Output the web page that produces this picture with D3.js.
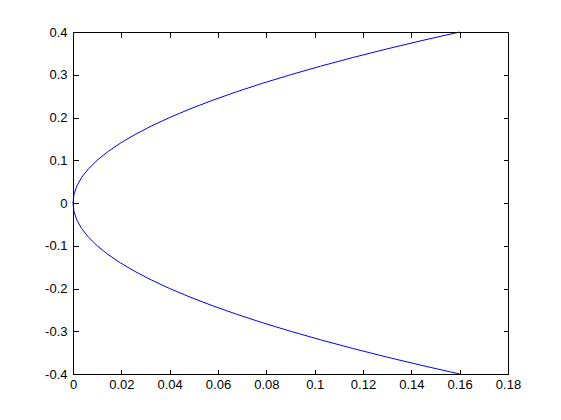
<!DOCTYPE html>
<html><head><meta charset="utf-8">
<script src="https://cdn.jsdelivr.net/npm/d3@7"></script>
<style>body{margin:0;background:#fff;}svg{display:block;}</style>
</head><body>
<script>
const yValues = [-0.4,-0.38,-0.36,-0.34,-0.32,-0.3,-0.28,-0.26,-0.24,-0.22,-0.2,-0.18,-0.16,-0.14,-0.12,-0.1,-0.08,-0.06,-0.04,-0.02,0,
  0.02,0.04,0.06,0.08,0.1,0.12,0.14,0.16,0.18,0.2,0.22,0.24,0.26,0.28,0.3,0.32,0.34,0.36,0.38,0.4];
const xValues = [0.16,0.1444,0.1296,0.1156,0.1024,0.09,0.0784,0.0676,0.0576,0.0484,0.04,0.0324,0.0256,0.0196,0.0144,0.01,0.0064,0.0036,0.0016,0.0004,0,
  0.0004,0.0016,0.0036,0.0064,0.01,0.0144,0.0196,0.0256,0.0324,0.04,0.0484,0.0576,0.0676,0.0784,0.09,0.1024,0.1156,0.1296,0.1444,0.16];
const xTicks = [0,0.02,0.04,0.06,0.08,0.1,0.12,0.14,0.16,0.18];
const xTickLabels = ["0","0.02","0.04","0.06","0.08","0.1","0.12","0.14","0.16","0.18"];
const yTicks = [-0.4,-0.3,-0.2,-0.1,0,0.1,0.2,0.3,0.4];
const yTickLabels = ["-0.4","-0.3","-0.2","-0.1","0","0.1","0.2","0.3","0.4"];

const W=561,H=420;
const L=73,R=508,T=32,B=374;
const svg=d3.select("body").append("svg").attr("width",W).attr("height",H);
const x=d3.scaleLinear().domain([0,0.18]).range([L,R]);
const y=d3.scaleLinear().domain([-0.4,0.4]).range([B,T]);
const font="Liberation Sans, Arial, Helvetica, sans-serif";
const tl=5;

const pts=yValues.map((v,i)=>[xValues[i],v]);
svg.append("path").datum(pts)
  .attr("d",d3.line().x(d=>x(d[0])).y(d=>y(d[1])))
  .attr("fill","none").attr("stroke","#0000ff").attr("stroke-width",1);

const g=svg.append("g").attr("shape-rendering","crispEdges");
g.append("rect").attr("x",L+0.5).attr("y",T+0.5).attr("width",R-L).attr("height",B-T)
  .attr("fill","none").attr("stroke","#000").attr("stroke-width",1);

const xb=svg.append("g").attr("transform",`translate(0,${B+0.5})`)
  .call(d3.axisBottom(x).tickValues(xTicks).tickFormat((d,i)=>xTickLabels[i]).tickSizeInner(-tl).tickSizeOuter(0).tickPadding(5));
const xt=svg.append("g").attr("transform",`translate(0,${T+0.5})`)
  .call(d3.axisTop(x).tickValues(xTicks).tickFormat("").tickSizeInner(-tl).tickSizeOuter(0));
const yl=svg.append("g").attr("transform",`translate(${L+0.5},0)`)
  .call(d3.axisLeft(y).tickValues(yTicks).tickFormat((d,i)=>yTickLabels[i]).tickSizeInner(-tl).tickSizeOuter(0).tickPadding(6));
const yr=svg.append("g").attr("transform",`translate(${R+0.5},0)`)
  .call(d3.axisRight(y).tickValues(yTicks).tickFormat("").tickSizeInner(-tl).tickSizeOuter(0));
[xb,xt,yl,yr].forEach(a=>{
  a.select(".domain").remove();
  a.selectAll("line").attr("stroke","#000").attr("shape-rendering","crispEdges");
  a.selectAll("text").attr("fill","#000").style("font-family",font).style("font-size","13px");
});
</script>
</body></html>
